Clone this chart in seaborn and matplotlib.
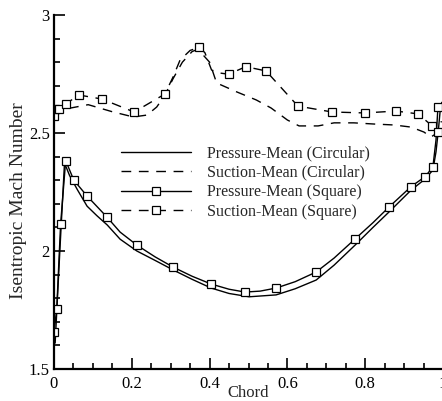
import numpy as np
import matplotlib
matplotlib.use("Agg")
import matplotlib.pyplot as plt
import seaborn as sns
from matplotlib.ticker import MultipleLocator, FuncFormatter

# ---- data ----
press_circ_x = [0.003, 0.015, 0.027, 0.040, 0.060, 0.085, 0.110, 0.137, 0.170, 0.213, 0.260,
                0.306, 0.355, 0.404, 0.450, 0.502, 0.571, 0.620, 0.674, 0.720, 0.774, 0.820,
                0.861, 0.918, 0.954, 0.974, 0.982, 0.988, 0.993, 0.997]
press_circ_y = [1.61, 2.00, 2.373, 2.32, 2.26, 2.19, 2.15, 2.11, 2.05, 2.00, 1.96,
                1.92, 1.88, 1.843, 1.82, 1.806, 1.814, 1.84, 1.877, 1.94, 2.025, 2.10,
                2.165, 2.258, 2.305, 2.343, 2.42, 2.51, 2.60, 2.63]

press_sq_x = [0.0, 0.007, 0.017, 0.030, 0.051, 0.085, 0.136, 0.170, 0.213, 0.260, 0.306,
              0.355, 0.404, 0.450, 0.491, 0.530, 0.571, 0.620, 0.674, 0.720, 0.774, 0.820,
              0.861, 0.918, 0.954, 0.974, 0.982, 0.987]
press_sq_y = [1.657, 1.754, 2.114, 2.383, 2.30, 2.233, 2.144, 2.08, 2.025, 1.975, 1.932,
              1.893, 1.860, 1.838, 1.826, 1.830, 1.843, 1.87, 1.911, 1.97, 2.051, 2.12,
              2.186, 2.273, 2.315, 2.356, 2.47, 2.61]
press_sq_marks = [0, 1, 2, 3, 4, 5, 6, 8, 10, 12, 14, 16, 18, 20, 22, 23, 24, 25, 27]

suc_circ_x = [0.0, 0.015, 0.04, 0.088, 0.15, 0.204, 0.239, 0.264, 0.285, 0.306, 0.33,
              0.355, 0.37, 0.40, 0.418, 0.47, 0.52, 0.558, 0.60, 0.63, 0.679, 0.72,
              0.771, 0.823, 0.874, 0.918, 0.951, 0.969, 0.985, 0.996]
suc_circ_y = [2.568, 2.585, 2.605, 2.62, 2.59, 2.568, 2.576, 2.61, 2.66, 2.73, 2.80,
              2.845, 2.855, 2.80, 2.712, 2.674, 2.64, 2.606, 2.555, 2.530, 2.530, 2.543,
              2.543, 2.538, 2.534, 2.525, 2.504, 2.483, 2.50, 2.55]

suc_sq_x = [0.0, 0.003, 0.012, 0.030, 0.064, 0.123, 0.206, 0.285, 0.306, 0.324, 0.350,
            0.374, 0.388, 0.405, 0.427, 0.449, 0.493, 0.545, 0.627, 0.715, 0.799, 0.879,
            0.936, 0.972, 0.987, 0.996]
suc_sq_y = [2.572, 2.602, 2.602, 2.623, 2.661, 2.644, 2.589, 2.665, 2.737, 2.809, 2.85,
            2.863, 2.84, 2.767, 2.754, 2.749, 2.781, 2.763, 2.614, 2.589, 2.585, 2.593,
            2.581, 2.530, 2.506, 2.52]
suc_sq_marks = [0, 1, 2, 3, 4, 5, 6, 7, 11, 15, 16, 17, 18, 19, 20, 21, 22, 23, 24]

labels = ["Pressure-Mean (Circular)", "Suction-Mean (Circular)",
          "Pressure-Mean (Square)", "Suction-Mean (Square)"]

sns.set_style("ticks")
plt.rcParams['font.family'] = ['Liberation Serif', 'DejaVu Serif']

fig = plt.figure(figsize=(4.42, 4.01), dpi=100)
ax = fig.add_axes([54 / 442, 32 / 401, 389 / 442, 354 / 401])

dash = (0, (7, 5.5))
common = dict(color="black", lw=1.0, estimator=None, sort=False, ax=ax)
mk = dict(marker="s", ms=6, mfc="white", mec="black", mew=0.9)

sns.lineplot(x=press_circ_x, y=press_circ_y, label=labels[0], linestyle="-", **common)
sns.lineplot(x=suc_circ_x, y=suc_circ_y, label=labels[1], linestyle=dash, **common)
sns.lineplot(x=press_sq_x, y=press_sq_y, label=labels[2], linestyle="-",
             markevery=press_sq_marks, **mk, **common)
sns.lineplot(x=suc_sq_x, y=suc_sq_y, label=labels[3], linestyle=dash,
             markevery=suc_sq_marks, **mk, **common)

ax.set_xlim(0, 1)
ax.set_ylim(1.5, 3)
ax.xaxis.set_major_locator(MultipleLocator(0.2))
ax.xaxis.set_minor_locator(MultipleLocator(0.05))
ax.yaxis.set_major_locator(MultipleLocator(0.5))
ax.yaxis.set_minor_locator(MultipleLocator(0.1))
fmt = FuncFormatter(lambda v, p: "%g" % round(v, 3))
ax.xaxis.set_major_formatter(fmt)
ax.yaxis.set_major_formatter(fmt)

ax.tick_params(which="both", direction="in", colors="black", labelsize=12, width=1.2)
ax.tick_params(which="major", length=8)
ax.tick_params(axis="x", which="major", pad=5)
ax.tick_params(axis="y", which="major", pad=3)
ax.tick_params(which="minor", length=4.5)
ax.tick_params(axis="y", which="both", right=False)
ax.tick_params(axis="x", which="both", top=False)

for side in ["top", "right"]:
    ax.spines[side].set_visible(False)
for side in ["left", "bottom"]:
    ax.spines[side].set_linewidth(1.6)
    ax.spines[side].set_color("black")

ax.set_xlabel("Chord", fontsize=12, labelpad=-5)
ax.set_ylabel("Isentropic Mach Number", fontsize=14, labelpad=1)
ax.yaxis.label.set_y(0.475)

ax.legend(loc="upper left", bbox_to_anchor=(0.172, 0.632), frameon=False,
          fontsize=11.5, handlelength=4.4, handletextpad=0.97, labelspacing=0.22,
          borderpad=0, borderaxespad=0, numpoints=1)

fig.savefig("out.png", dpi=100)
